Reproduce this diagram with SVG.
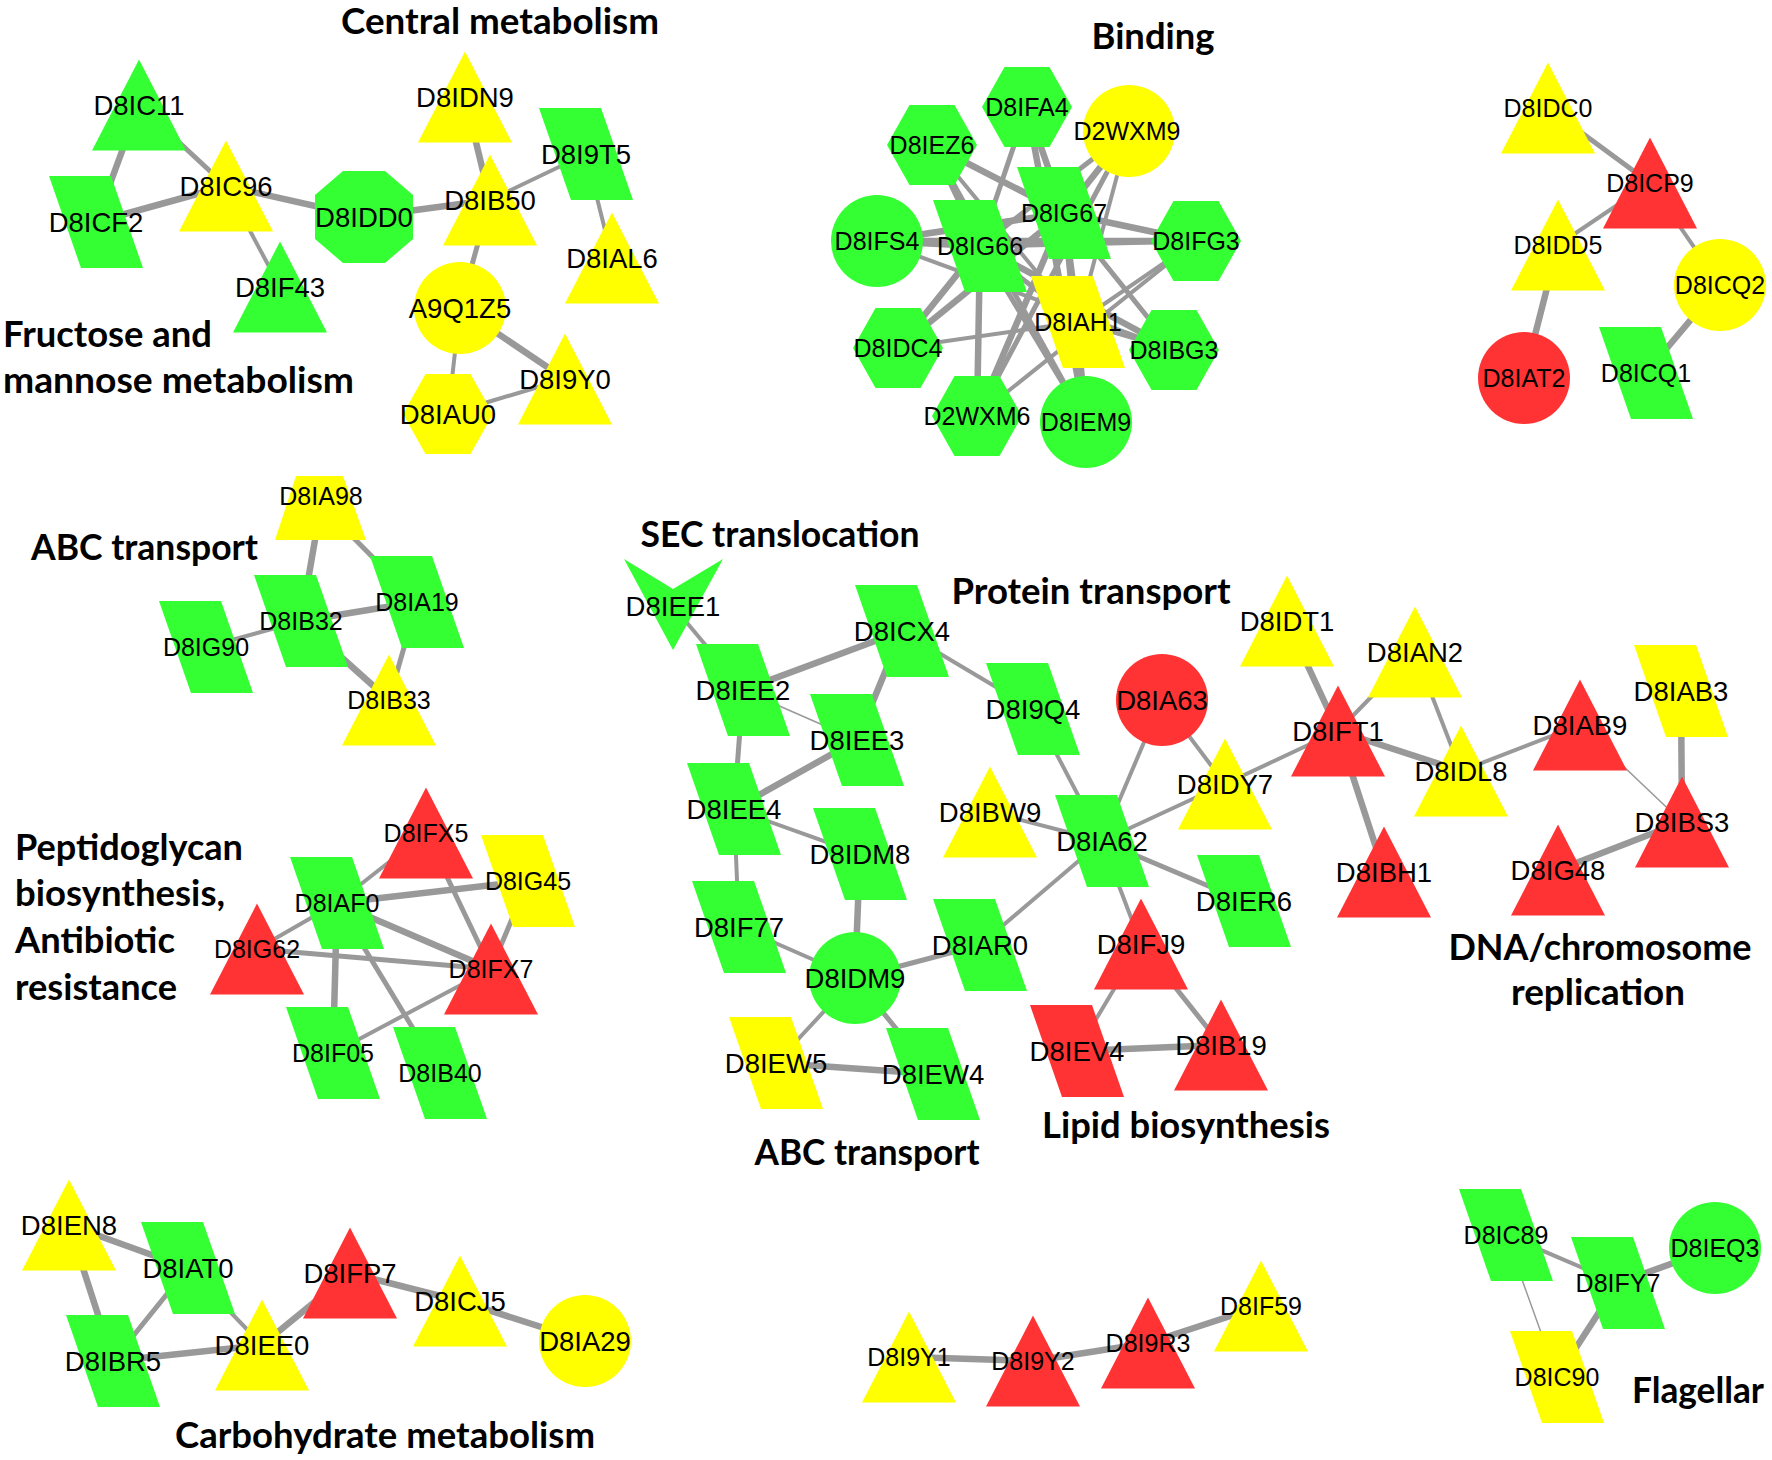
<svg xmlns="http://www.w3.org/2000/svg" width="1772" height="1460" viewBox="0 0 1772 1460">
<style>
.e{stroke:#999;fill:none}
.t{stroke-width:1.5}.m{stroke-width:4}.n{stroke-width:5}.k{stroke-width:6.5}
.g{fill:#33FF33}.y{fill:#FFFF00}.r{fill:#FF3333}
.l,.L{font-family:"Liberation Sans",Arial,sans-serif;font-size:25px;fill:#000;text-anchor:middle}
.L{font-size:27.5px}
.h{font-family:Lato,"Liberation Sans",sans-serif;font-weight:700;font-size:36px;fill:#000}
.c{text-anchor:middle}
</style>
<defs>
<polygon id="tri" points="0,-45.5 47,45.5 -47,45.5"/>
<polygon id="para" points="-47,-46 15,-46 47,46 -15,46"/>
<polygon id="hex" points="-45,0 -22.5,-40 22.5,-40 45,0 22.5,40 -22.5,40"/>
<circle id="circ" r="46"/>
<polygon id="oct" points="-49,-22 -21,-46 21,-46 49,-22 49,22 21,46 -21,46 -49,22"/>
<polygon id="vee" points="-49,-47 0,-17 50,-47 0,44"/>
</defs>
<rect width="1772" height="1460" fill="#fff"/>
<g id="edges">
<line class="e k" x1="139" y1="105" x2="96" y2="222"/>
<line class="e n" x1="139" y1="105" x2="226" y2="186"/>
<line class="e k" x1="96" y1="222" x2="226" y2="186"/>
<line class="e m" x1="226" y1="186" x2="280" y2="287"/>
<line class="e k" x1="226" y1="186" x2="364" y2="217"/>
<line class="e k" x1="364" y1="217" x2="490" y2="200"/>
<line class="e k" x1="465" y1="97" x2="490" y2="200"/>
<line class="e m" x1="490" y1="200" x2="586" y2="154"/>
<line class="e m" x1="586" y1="154" x2="612" y2="258"/>
<line class="e n" x1="490" y1="200" x2="460" y2="308"/>
<line class="e k" x1="460" y1="308" x2="565" y2="379"/>
<line class="e m" x1="460" y1="308" x2="448" y2="414"/>
<line class="e m" x1="448" y1="414" x2="565" y2="379"/>
<line class="e n" x1="932" y1="145" x2="980" y2="246"/>
<line class="e k" x1="932" y1="145" x2="1064" y2="213"/>
<line class="e n" x1="932" y1="145" x2="1086" y2="422"/>
<line class="e m" x1="932" y1="145" x2="1078" y2="322"/>
<line class="e n" x1="1027" y1="107" x2="980" y2="246"/>
<line class="e k" x1="1027" y1="107" x2="1064" y2="213"/>
<line class="e k" x1="1027" y1="107" x2="1086" y2="422"/>
<line class="e k" x1="1129" y1="131" x2="1064" y2="213"/>
<line class="e n" x1="1129" y1="131" x2="980" y2="246"/>
<line class="e m" x1="1129" y1="131" x2="1078" y2="322"/>
<line class="e n" x1="1129" y1="131" x2="977" y2="416"/>
<line class="e k" x1="877" y1="241" x2="980" y2="246"/>
<line class="e k" x1="877" y1="241" x2="1064" y2="213"/>
<line class="e k" x1="877" y1="241" x2="1196" y2="241"/>
<line class="e m" x1="877" y1="241" x2="1174" y2="350"/>
<line class="e n" x1="980" y1="246" x2="1196" y2="241"/>
<line class="e k" x1="1064" y1="213" x2="1196" y2="241"/>
<line class="e k" x1="980" y1="246" x2="1174" y2="350"/>
<line class="e n" x1="1064" y1="213" x2="1174" y2="350"/>
<line class="e n" x1="980" y1="246" x2="1078" y2="322"/>
<line class="e k" x1="1064" y1="213" x2="1078" y2="322"/>
<line class="e k" x1="980" y1="246" x2="977" y2="416"/>
<line class="e k" x1="1064" y1="213" x2="977" y2="416"/>
<line class="e n" x1="980" y1="246" x2="1086" y2="422"/>
<line class="e k" x1="1064" y1="213" x2="898" y2="348"/>
<line class="e k" x1="980" y1="246" x2="898" y2="348"/>
<line class="e m" x1="898" y1="348" x2="1078" y2="322"/>
<line class="e m" x1="1078" y1="322" x2="1196" y2="241"/>
<line class="e m" x1="977" y1="416" x2="1196" y2="241"/>
<line class="e m" x1="1078" y1="322" x2="1174" y2="350"/>
<line class="e n" x1="1078" y1="322" x2="1086" y2="422"/>
<line class="e k" x1="1064" y1="213" x2="1086" y2="422"/>
<line class="e n" x1="1548" y1="108" x2="1650" y2="183"/>
<line class="e m" x1="1650" y1="183" x2="1558" y2="245"/>
<line class="e m" x1="1650" y1="183" x2="1720" y2="285"/>
<line class="e k" x1="1558" y1="245" x2="1524" y2="378"/>
<line class="e k" x1="1720" y1="285" x2="1646" y2="373"/>
<line class="e k" x1="321" y1="505" x2="301" y2="621"/>
<line class="e n" x1="321" y1="505" x2="417" y2="602"/>
<line class="e k" x1="301" y1="621" x2="417" y2="602"/>
<line class="e m" x1="301" y1="621" x2="206" y2="647"/>
<line class="e k" x1="301" y1="621" x2="389" y2="700"/>
<line class="e n" x1="417" y1="602" x2="389" y2="700"/>
<line class="e m" x1="426" y1="833" x2="337" y2="903"/>
<line class="e n" x1="426" y1="833" x2="491" y2="969"/>
<line class="e k" x1="337" y1="903" x2="528" y2="881"/>
<line class="e n" x1="528" y1="881" x2="491" y2="969"/>
<line class="e k" x1="337" y1="903" x2="491" y2="969"/>
<line class="e m" x1="337" y1="903" x2="257" y2="949"/>
<line class="e n" x1="257" y1="949" x2="491" y2="969"/>
<line class="e k" x1="337" y1="903" x2="333" y2="1053"/>
<line class="e n" x1="337" y1="903" x2="440" y2="1073"/>
<line class="e m" x1="333" y1="1053" x2="491" y2="969"/>
<line class="e m" x1="673" y1="606" x2="743" y2="690"/>
<line class="e k" x1="743" y1="690" x2="902" y2="631"/>
<line class="e t" x1="743" y1="690" x2="857" y2="740"/>
<line class="e k" x1="902" y1="631" x2="857" y2="740"/>
<line class="e m" x1="902" y1="631" x2="1033" y2="709"/>
<line class="e n" x1="743" y1="690" x2="734" y2="809"/>
<line class="e k" x1="857" y1="740" x2="734" y2="809"/>
<line class="e m" x1="734" y1="809" x2="860" y2="854"/>
<line class="e m" x1="734" y1="809" x2="739" y2="927"/>
<line class="e k" x1="860" y1="854" x2="855" y2="978"/>
<line class="e m" x1="739" y1="927" x2="855" y2="978"/>
<line class="e n" x1="855" y1="978" x2="980" y2="945"/>
<line class="e m" x1="855" y1="978" x2="776" y2="1063"/>
<line class="e n" x1="855" y1="978" x2="933" y2="1074"/>
<line class="e k" x1="776" y1="1063" x2="933" y2="1074"/>
<line class="e m" x1="980" y1="945" x2="1102" y2="841"/>
<line class="e m" x1="1033" y1="709" x2="1102" y2="841"/>
<line class="e m" x1="990" y1="812" x2="1102" y2="841"/>
<line class="e m" x1="1162" y1="700" x2="1102" y2="841"/>
<line class="e m" x1="1162" y1="700" x2="1225" y2="784"/>
<line class="e m" x1="1102" y1="841" x2="1225" y2="784"/>
<line class="e m" x1="1225" y1="784" x2="1338" y2="731"/>
<line class="e n" x1="1102" y1="841" x2="1244" y2="901"/>
<line class="e m" x1="1102" y1="841" x2="1141" y2="944"/>
<line class="e m" x1="1141" y1="944" x2="1077" y2="1051"/>
<line class="e n" x1="1141" y1="944" x2="1221" y2="1045"/>
<line class="e k" x1="1077" y1="1051" x2="1221" y2="1045"/>
<line class="e k" x1="1287" y1="621" x2="1338" y2="731"/>
<line class="e m" x1="1415" y1="652" x2="1338" y2="731"/>
<line class="e m" x1="1415" y1="652" x2="1461" y2="771"/>
<line class="e k" x1="1338" y1="731" x2="1461" y2="771"/>
<line class="e k" x1="1338" y1="731" x2="1384" y2="872"/>
<line class="e m" x1="1461" y1="771" x2="1580" y2="725"/>
<line class="e t" x1="1580" y1="725" x2="1682" y2="822"/>
<line class="e k" x1="1681" y1="691" x2="1682" y2="822"/>
<line class="e k" x1="1682" y1="822" x2="1558" y2="870"/>
<line class="e k" x1="69" y1="1225" x2="188" y2="1268"/>
<line class="e k" x1="69" y1="1225" x2="113" y2="1361"/>
<line class="e n" x1="188" y1="1268" x2="113" y2="1361"/>
<line class="e m" x1="188" y1="1268" x2="262" y2="1345"/>
<line class="e k" x1="113" y1="1361" x2="262" y2="1345"/>
<line class="e k" x1="262" y1="1345" x2="350" y2="1273"/>
<line class="e k" x1="350" y1="1273" x2="460" y2="1301"/>
<line class="e k" x1="460" y1="1301" x2="585" y2="1341"/>
<line class="e k" x1="909" y1="1357" x2="1033" y2="1361"/>
<line class="e k" x1="1033" y1="1361" x2="1148" y2="1343"/>
<line class="e k" x1="1148" y1="1343" x2="1261" y2="1306"/>
<line class="e m" x1="1506" y1="1235" x2="1618" y2="1283"/>
<line class="e k" x1="1618" y1="1283" x2="1715" y2="1248"/>
<line class="e k" x1="1618" y1="1283" x2="1557" y2="1377"/>
<line class="e t" x1="1506" y1="1235" x2="1557" y2="1377"/>
</g>
<g id="nodes">
<g id="D8IC11"><use href="#tri" class="g" x="139" y="105"/><text class="L" x="139" y="115">D8IC11</text></g>
<g id="D8ICF2"><use href="#para" class="g" x="96" y="222"/><text class="L" x="96" y="232">D8ICF2</text></g>
<g id="D8IC96"><use href="#tri" class="y" x="226" y="186"/><text class="L" x="226" y="196">D8IC96</text></g>
<g id="D8IF43"><use href="#tri" class="g" x="280" y="287"/><text class="L" x="280" y="297">D8IF43</text></g>
<g id="D8IDD0"><use href="#oct" class="g" x="364" y="217"/><text class="L" x="364" y="227">D8IDD0</text></g>
<g id="D8IDN9"><use href="#tri" class="y" x="465" y="97"/><text class="L" x="465" y="107">D8IDN9</text></g>
<g id="D8IB50"><use href="#tri" class="y" x="490" y="200"/><text class="L" x="490" y="210">D8IB50</text></g>
<g id="D8I9T5"><use href="#para" class="g" x="586" y="154"/><text class="L" x="586" y="164">D8I9T5</text></g>
<g id="D8IAL6"><use href="#tri" class="y" x="612" y="258"/><text class="L" x="612" y="268">D8IAL6</text></g>
<g id="A9Q1Z5"><use href="#circ" class="y" x="460" y="308"/><text class="L" x="460" y="318">A9Q1Z5</text></g>
<g id="D8I9Y0"><use href="#tri" class="y" x="565" y="379"/><text class="L" x="565" y="389">D8I9Y0</text></g>
<g id="D8IAU0"><use href="#hex" class="y" x="448" y="414"/><text class="L" x="448" y="424">D8IAU0</text></g>

<g id="D8IFA4"><use href="#hex" class="g" x="1027" y="107"/><text class="l" x="1027" y="116">D8IFA4</text></g>
<g id="D2WXM9"><use href="#circ" class="y" x="1129" y="131"/><text class="l" x="1127" y="140">D2WXM9</text></g>
<g id="D8IEZ6"><use href="#hex" class="g" x="932" y="145"/><text class="l" x="932" y="154">D8IEZ6</text></g>
<g id="D8IFS4"><use href="#circ" class="g" x="877" y="241"/><text class="l" x="877" y="250">D8IFS4</text></g>
<g id="D8IG67"><use href="#para" class="g" x="1064" y="213"/><text class="l" x="1064" y="222">D8IG67</text></g>
<g id="D8IG66"><use href="#para" class="g" x="980" y="246"/><text class="l" x="980" y="255">D8IG66</text></g>
<g id="D8IFG3"><use href="#hex" class="g" x="1196" y="241"/><text class="l" x="1196" y="250">D8IFG3</text></g>
<g id="D8IAH1"><use href="#para" class="y" x="1078" y="322"/><text class="l" x="1078" y="331">D8IAH1</text></g>
<g id="D8IDC4"><use href="#hex" class="g" x="898" y="348"/><text class="l" x="898" y="357">D8IDC4</text></g>
<g id="D8IBG3"><use href="#hex" class="g" x="1174" y="350"/><text class="l" x="1174" y="359">D8IBG3</text></g>
<g id="D2WXM6"><use href="#hex" class="g" x="977" y="416"/><text class="l" x="977" y="425">D2WXM6</text></g>
<g id="D8IEM9"><use href="#circ" class="g" x="1086" y="422"/><text class="l" x="1086" y="431">D8IEM9</text></g>

<g id="D8IDC0"><use href="#tri" class="y" x="1548" y="108"/><text class="l" x="1548" y="117">D8IDC0</text></g>
<g id="D8ICP9"><use href="#tri" class="r" x="1650" y="183"/><text class="l" x="1650" y="192">D8ICP9</text></g>
<g id="D8IDD5"><use href="#tri" class="y" x="1558" y="245"/><text class="l" x="1558" y="254">D8IDD5</text></g>
<g id="D8ICQ2"><use href="#circ" class="y" x="1720" y="285"/><text class="l" x="1720" y="294">D8ICQ2</text></g>
<g id="D8IAT2"><use href="#circ" class="r" x="1524" y="378"/><text class="l" x="1524" y="387">D8IAT2</text></g>
<g id="D8ICQ1"><use href="#para" class="g" x="1646" y="373"/><text class="l" x="1646" y="382">D8ICQ1</text></g>

<g id="D8IA98"><polygon class="y" points="296,476 343,476 366,540 275,540"/><text class="l" x="321" y="505">D8IA98</text></g>
<g id="D8IA19"><use href="#para" class="g" x="417" y="602"/><text class="l" x="417" y="611">D8IA19</text></g>
<g id="D8IB32"><use href="#para" class="g" x="301" y="621"/><text class="l" x="301" y="630">D8IB32</text></g>
<g id="D8IG90"><use href="#para" class="g" x="206" y="647"/><text class="l" x="206" y="656">D8IG90</text></g>
<g id="D8IB33"><use href="#tri" class="y" x="389" y="700"/><text class="l" x="389" y="709">D8IB33</text></g>

<g id="D8IFX5"><use href="#tri" class="r" x="426" y="833"/><text class="l" x="426" y="842">D8IFX5</text></g>
<g id="D8IG45"><use href="#para" class="y" x="528" y="881"/><text class="l" x="528" y="890">D8IG45</text></g>
<g id="D8IAF0"><use href="#para" class="g" x="337" y="903"/><text class="l" x="337" y="912">D8IAF0</text></g>
<g id="D8IG62"><use href="#tri" class="r" x="257" y="949"/><text class="l" x="257" y="958">D8IG62</text></g>
<g id="D8IFX7"><use href="#tri" class="r" x="491" y="969"/><text class="l" x="491" y="978">D8IFX7</text></g>
<g id="D8IF05"><use href="#para" class="g" x="333" y="1053"/><text class="l" x="333" y="1062">D8IF05</text></g>
<g id="D8IB40"><use href="#para" class="g" x="440" y="1073"/><text class="l" x="440" y="1082">D8IB40</text></g>

<g id="D8IEE1"><use href="#vee" class="g" x="673" y="606"/><text class="L" x="673" y="616">D8IEE1</text></g>
<g id="D8ICX4"><use href="#para" class="g" x="902" y="631"/><text class="L" x="902" y="641">D8ICX4</text></g>
<g id="D8IEE2"><use href="#para" class="g" x="743" y="690"/><text class="L" x="743" y="700">D8IEE2</text></g>
<g id="D8IEE3"><use href="#para" class="g" x="857" y="740"/><text class="L" x="857" y="750">D8IEE3</text></g>
<g id="D8IEE4"><use href="#para" class="g" x="734" y="809"/><text class="L" x="734" y="819">D8IEE4</text></g>
<g id="D8IDM8"><use href="#para" class="g" x="860" y="854"/><text class="L" x="860" y="864">D8IDM8</text></g>
<g id="D8IF77"><use href="#para" class="g" x="739" y="927"/><text class="L" x="739" y="937">D8IF77</text></g>
<g id="D8IDM9"><use href="#circ" class="g" x="855" y="978"/><text class="L" x="855" y="988">D8IDM9</text></g>
<g id="D8IAR0"><use href="#para" class="g" x="980" y="945"/><text class="L" x="980" y="955">D8IAR0</text></g>
<g id="D8IEW5"><use href="#para" class="y" x="776" y="1063"/><text class="L" x="776" y="1073">D8IEW5</text></g>
<g id="D8IEW4"><use href="#para" class="g" x="933" y="1074"/><text class="L" x="933" y="1084">D8IEW4</text></g>
<g id="D8I9Q4"><use href="#para" class="g" x="1033" y="709"/><text class="L" x="1033" y="719">D8I9Q4</text></g>
<g id="D8IA63"><use href="#circ" class="r" x="1162" y="700"/><text class="L" x="1162" y="710">D8IA63</text></g>
<g id="D8IBW9"><use href="#tri" class="y" x="990" y="812"/><text class="L" x="990" y="822">D8IBW9</text></g>
<g id="D8IA62"><use href="#para" class="g" x="1102" y="841"/><text class="L" x="1102" y="851">D8IA62</text></g>
<g id="D8IFJ9"><use href="#tri" class="r" x="1141" y="944"/><text class="L" x="1141" y="954">D8IFJ9</text></g>
<g id="D8IEV4"><use href="#para" class="r" x="1077" y="1051"/><text class="L" x="1077" y="1061">D8IEV4</text></g>
<g id="D8IB19"><use href="#tri" class="r" x="1221" y="1045"/><text class="L" x="1221" y="1055">D8IB19</text></g>
<g id="D8IER6"><use href="#para" class="g" x="1244" y="901"/><text class="L" x="1244" y="911">D8IER6</text></g>
<g id="D8IDT1"><use href="#tri" class="y" x="1287" y="621"/><text class="L" x="1287" y="631">D8IDT1</text></g>
<g id="D8IAN2"><use href="#tri" class="y" x="1415" y="652"/><text class="L" x="1415" y="662">D8IAN2</text></g>
<g id="D8IFT1"><use href="#tri" class="r" x="1338" y="731"/><text class="L" x="1338" y="741">D8IFT1</text></g>
<g id="D8IDL8"><use href="#tri" class="y" x="1461" y="771"/><text class="L" x="1461" y="781">D8IDL8</text></g>
<g id="D8IDY7"><use href="#tri" class="y" x="1225" y="784"/><text class="L" x="1225" y="794">D8IDY7</text></g>
<g id="D8IAB9"><use href="#tri" class="r" x="1580" y="725"/><text class="L" x="1580" y="735">D8IAB9</text></g>
<g id="D8IAB3"><use href="#para" class="y" x="1681" y="691"/><text class="L" x="1681" y="701">D8IAB3</text></g>
<g id="D8IBS3"><use href="#tri" class="r" x="1682" y="822"/><text class="L" x="1682" y="832">D8IBS3</text></g>
<g id="D8IG48"><use href="#tri" class="r" x="1558" y="870"/><text class="L" x="1558" y="880">D8IG48</text></g>
<g id="D8IBH1"><use href="#tri" class="r" x="1384" y="872"/><text class="L" x="1384" y="882">D8IBH1</text></g>

<g id="D8IEN8"><use href="#tri" class="y" x="69" y="1225"/><text class="L" x="69" y="1235">D8IEN8</text></g>
<g id="D8IAT0"><use href="#para" class="g" x="188" y="1268"/><text class="L" x="188" y="1278">D8IAT0</text></g>
<g id="D8IBR5"><use href="#para" class="g" x="113" y="1361"/><text class="L" x="113" y="1371">D8IBR5</text></g>
<g id="D8IEE0"><use href="#tri" class="y" x="262" y="1345"/><text class="L" x="262" y="1355">D8IEE0</text></g>
<g id="D8IFP7"><use href="#tri" class="r" x="350" y="1273"/><text class="L" x="350" y="1283">D8IFP7</text></g>
<g id="D8ICJ5"><use href="#tri" class="y" x="460" y="1301"/><text class="L" x="460" y="1311">D8ICJ5</text></g>
<g id="D8IA29"><use href="#circ" class="y" x="585" y="1341"/><text class="L" x="585" y="1351">D8IA29</text></g>

<g id="D8I9Y1"><use href="#tri" class="y" x="909" y="1357"/><text class="l" x="909" y="1366">D8I9Y1</text></g>
<g id="D8I9Y2"><use href="#tri" class="r" x="1033" y="1361"/><text class="l" x="1033" y="1370">D8I9Y2</text></g>
<g id="D8I9R3"><use href="#tri" class="r" x="1148" y="1343"/><text class="l" x="1148" y="1352">D8I9R3</text></g>
<g id="D8IF59"><use href="#tri" class="y" x="1261" y="1306"/><text class="l" x="1261" y="1315">D8IF59</text></g>

<g id="D8IC89"><use href="#para" class="g" x="1506" y="1235"/><text class="l" x="1506" y="1244">D8IC89</text></g>
<g id="D8IFY7"><use href="#para" class="g" x="1618" y="1283"/><text class="l" x="1618" y="1292">D8IFY7</text></g>
<g id="D8IEQ3"><use href="#circ" class="g" x="1715" y="1248"/><text class="l" x="1715" y="1257">D8IEQ3</text></g>
<g id="D8IC90"><use href="#para" class="y" x="1557" y="1377"/><text class="l" x="1557" y="1386">D8IC90</text></g>
</g>
<g id="titles">
<text class="h c" x="500" y="34" textLength="318" lengthAdjust="spacingAndGlyphs">Central metabolism</text>
<text class="h" x="3" y="347" textLength="209" lengthAdjust="spacingAndGlyphs">Fructose and</text>
<text class="h" x="3" y="393" textLength="351" lengthAdjust="spacingAndGlyphs">mannose metabolism</text>
<text class="h c" x="1153" y="49" textLength="123" lengthAdjust="spacingAndGlyphs">Binding</text>
<text class="h" x="31" y="560" textLength="227" lengthAdjust="spacingAndGlyphs">ABC transport</text>
<text class="h" x="15" y="860" textLength="228" lengthAdjust="spacingAndGlyphs">Peptidoglycan</text>
<text class="h" x="15" y="906" textLength="210" lengthAdjust="spacingAndGlyphs">biosynthesis,</text>
<text class="h" x="15" y="953" textLength="160" lengthAdjust="spacingAndGlyphs">Antibiotic</text>
<text class="h" x="15" y="1000" textLength="162" lengthAdjust="spacingAndGlyphs">resistance</text>
<text class="h c" x="780" y="547" textLength="279" lengthAdjust="spacingAndGlyphs">SEC translocation</text>
<text class="h c" x="1091" y="604" textLength="279" lengthAdjust="spacingAndGlyphs">Protein transport</text>
<text class="h c" x="867" y="1165" textLength="225" lengthAdjust="spacingAndGlyphs">ABC transport</text>
<text class="h c" x="1186" y="1138" textLength="288" lengthAdjust="spacingAndGlyphs">Lipid biosynthesis</text>
<text class="h c" x="1600" y="960" textLength="303" lengthAdjust="spacingAndGlyphs">DNA/chromosome</text>
<text class="h c" x="1598" y="1005" textLength="174" lengthAdjust="spacingAndGlyphs">replication</text>
<text class="h c" x="385" y="1448" textLength="420" lengthAdjust="spacingAndGlyphs">Carbohydrate metabolism</text>
<text class="h c" x="1698" y="1403" textLength="132" lengthAdjust="spacingAndGlyphs">Flagellar</text>
</g>
</svg>
